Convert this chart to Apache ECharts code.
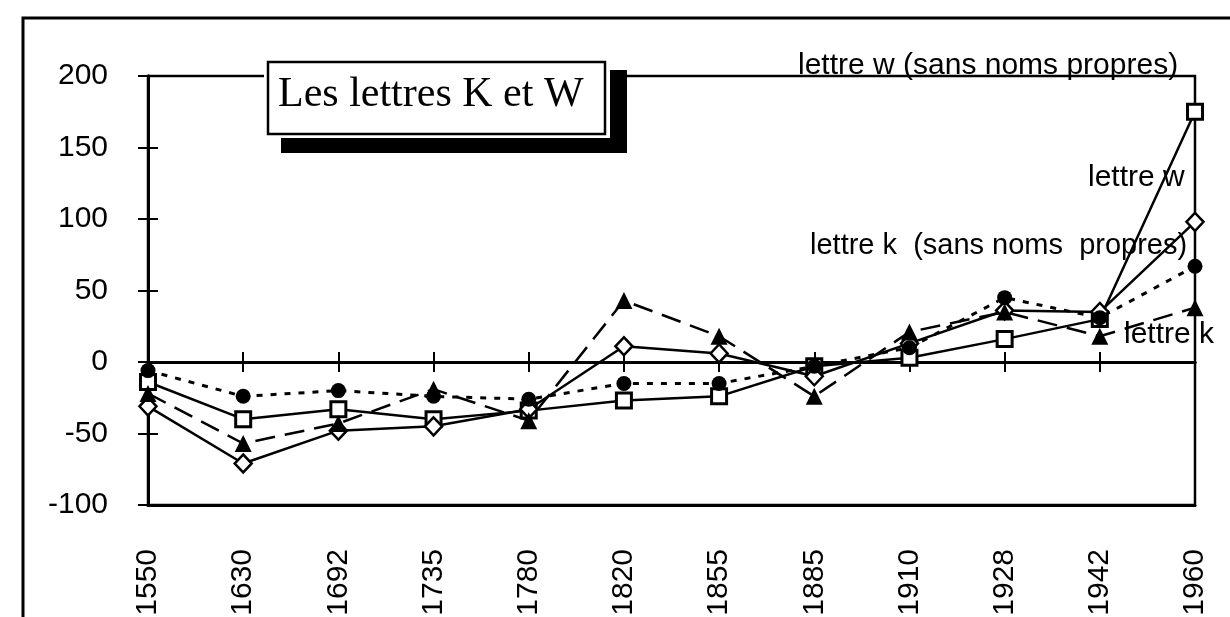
<!DOCTYPE html>
<html lang="fr">
<head>
<meta charset="UTF-8">
<title>Les lettres K et W</title>
<script src="https://cdn.jsdelivr.net/npm/echarts@6.0.0/dist/echarts.min.js"></script>
<style>
  body { margin: 0; padding: 0; background: #fff; }
  #main { width: 1230px; height: 617px; }
</style>
</head>
<body>
<div id="main"></div>
<script>
// années (axe des catégories)
const annees = ['1550', '1630', '1692', '1735', '1780', '1820', '1855', '1885', '1910', '1928', '1942', '1960'];

// valeurs
const wSansNoms = [-14, -40, -33, -40, -34, -27, -24, -3, 3, 16, 30, 175];
const lettreW   = [-31, -71, -48, -45, -33, 11, 6, -10, 13, 36, 35, 98];
const kSansNoms = [-6, -24, -20, -24, -26, -15, -15, -3, 10, 45, 31, 67];
const lettreK   = [-22, -57, -43, -19, -41, 43, 18, -24, 21, 35, 18, 38];

const FONT = "'Liberation Sans', Arial, sans-serif";

const chart = echarts.init(document.getElementById('main'));

// deux axes y identiques : un pour les graduations extérieures, un pour les intérieures
function axeY(inside, labels) {
  return {
    type: 'value', min: -100, max: 200, interval: 50, position: 'left',
    axisLine: { show: true, onZero: false, lineStyle: { color: '#000', width: 3 } },
    axisTick: { show: true, inside: inside, length: 10, lineStyle: { color: '#000', width: 2 } },
    axisLabel: { show: labels, color: '#000', fontSize: 30, fontFamily: FONT, margin: 40 },
    splitLine: { show: false }
  };
}
function axeZero(inside) {
  return {
    type: 'category', data: annees, boundaryGap: false, position: 'bottom',
    axisLine: { show: true, onZero: true, lineStyle: { color: '#000', width: 3 } },
    axisTick: { show: true, inside: inside, length: 10, interval: 0, lineStyle: { color: '#000', width: 2 } },
    axisLabel: { show: false }
  };
}

const noir = { color: '#000' };

const option = {
  animation: false,
  backgroundColor: '#fff',
  grid: {
    left: 148, top: 76, right: 35, bottom: 112,
    containLabel: false, outerBoundsMode: 'none',
    show: true, borderColor: '#000', borderWidth: 2.5, backgroundColor: 'transparent'
  },
  xAxis: [
    {
      type: 'category', data: annees, boundaryGap: false, position: 'bottom',
      axisLine: { show: true, onZero: false, lineStyle: { color: '#000', width: 3 } },
      axisTick: { show: false },
      axisLabel: { rotate: 90, interval: 0, color: '#000', fontSize: 30, fontFamily: FONT, margin: 44 }
    },
    axeZero(false),
    axeZero(true)
  ],
  yAxis: [axeY(false, true), axeY(true, false)],
  series: [
    {
      name: 'lettre w (sans noms propres)', type: 'line', data: wSansNoms,
      symbol: 'rect', symbolSize: 15,
      lineStyle: { color: '#000', width: 2.5 },
      itemStyle: { color: '#fff', borderColor: '#000', borderWidth: 3 }
    },
    {
      name: 'lettre w', type: 'line', data: lettreW,
      symbol: 'diamond', symbolSize: [17, 18],
      lineStyle: { color: '#000', width: 2.5 },
      itemStyle: { color: '#fff', borderColor: '#000', borderWidth: 2.5 }
    },
    {
      name: 'lettre k (sans noms propres)', type: 'line', data: kSansNoms,
      symbol: 'circle', symbolSize: 15,
      lineStyle: { color: '#000', width: 3, type: [6, 8] },
      itemStyle: noir
    },
    {
      name: 'lettre k', type: 'line', data: lettreK,
      symbol: 'triangle', symbolSize: [17, 17],
      lineStyle: { color: '#000', width: 2.5, type: [20, 10] },
      itemStyle: noir
    }
  ],
  graphic: [
    // cadre extérieur
    { type: 'rect', z: 0, silent: true,
      shape: { x: 23, y: 18, width: 1300, height: 700 },
      style: { fill: null, stroke: '#000', lineWidth: 3 } },
    // encadré du titre avec ombre
    { type: 'rect', z: 100, shape: { x: 281, y: 70, width: 346, height: 83 }, style: { fill: '#000' } },
    { type: 'rect', z: 101, shape: { x: 264, y: 58, width: 346, height: 80 }, style: { fill: '#fff' } },
    { type: 'rect', z: 102, shape: { x: 268, y: 62, width: 337, height: 72 },
      style: { fill: '#fff', stroke: '#000', lineWidth: 2.5 } },
    { type: 'text', z: 103, left: 278, top: 74,
      style: { text: 'Les lettres K et W', fill: '#000', font: "42px 'Liberation Serif', 'Times New Roman', serif" } },
    // étiquettes des séries
    { type: 'text', z: 110, left: 798, top: 51,
      style: { text: 'lettre w (sans noms propres)', fill: '#000', font: '30px ' + FONT } },
    { type: 'text', z: 110, left: 1088, top: 163,
      style: { text: 'lettre w', fill: '#000', font: '30px ' + FONT } },
    { type: 'text', z: 110, left: 810, top: 231,
      style: { text: 'lettre k  (sans noms  propres)', fill: '#000', font: '29px ' + FONT } },
    { type: 'text', z: 110, left: 1124, top: 320,
      style: { text: 'lettre k', fill: '#000', font: '30px ' + FONT } }
  ]
};

chart.setOption(option);
</script>
</body>
</html>
